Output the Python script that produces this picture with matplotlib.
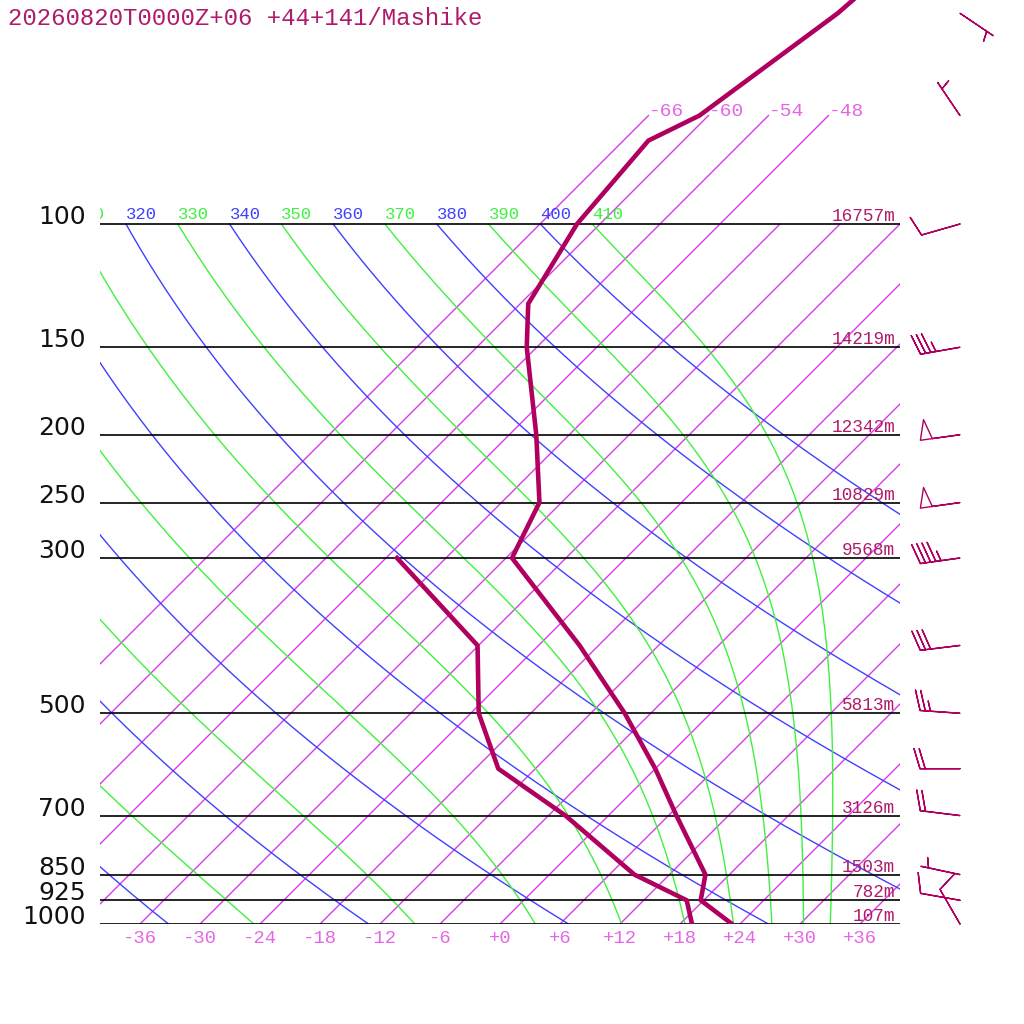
import numpy as np
import matplotlib
matplotlib.use('Agg')
import matplotlib.pyplot as plt
from matplotlib import transforms

# Sounding: Mashike, 2026-08-20 00Z +06h
title = '20260820T0000Z+06 +44+141/Mashike'

# temperature profile (hPa, degC)
t_pres = [1000, 925, 850, 700, 600, 500, 400, 300, 250, 200, 150, 130, 100, 76, 70, 50, 30]
t_temp = [23.2, 17.7, 15.6, 6.8, 0.0, -8.6, -19.9, -35.4, -38.2, -45.3, -55.0, -59.2, -62.3, -63.5, -60.9, -57.3, -55.0]

# dewpoint profile
td_pres = [1000, 925, 850, 700, 600, 500, 400, 300]
td_temp = [19.2, 16.3, 8.5, -4.3, -15.7, -23.2, -30.1, -46.9]

# standard levels and geopotential heights
lev_pres = [100, 150, 200, 250, 300, 500, 700, 850, 925, 1000]
lev_hgt = [16757, 14219, 12342, 10829, 9568, 5813, 3126, 1503, 782, 107]

# winds (direction deg, speed kt)
wind_pres = [50, 70, 100, 150, 200, 250, 300, 400, 500, 600, 700, 850, 925, 1000]
wind_dir = [124, 326, 254, 260, 262, 262, 262, 263, 274, 270, 277, 282, 280, 330]
wind_kt = [5, 5, 10, 35, 50, 50, 45, 30, 25, 20, 20, 5, 10, 10]

# background lines
isotherms = list(range(-66, 37, 6))
iso_high = [-66, -60, -54, -48]      # these go up to 70 hPa
theta_dry = list(range(240, 401, 20))
theta_moist = list(range(250, 411, 20))

SKEW = 70.0   # degC of shift per decade of pressure

PROF = '#b0005f'
TXT = '#b01a6a'
ISO = '#d83ce8'
ISO_LBL = '#e466e6'
BLUE = '#4040ff'
GREEN = '#40f040'


def skx(t, p):
    return np.asarray(t, dtype=float) + SKEW * np.log10(1000.0 / np.asarray(p, dtype=float))


def moist_rate(T, p):
    # dT/dlnp along a pseudo-adiabat (T in K, p in hPa)
    tc = T - 273.15
    es = 6.112 * np.exp(17.67 * tc / (tc + 243.5))
    rs = 0.622 * es / (p - es)
    return (287.04 * T + 2.501e6 * rs) / (1005.7 + 2.501e6 ** 2 * rs * 0.622 / (287.04 * T ** 2))


def moist_adiabat(theta, n=300):
    lnp = np.linspace(np.log(100.0), np.log(1000.0), n)
    h = lnp[1] - lnp[0]
    T = np.empty(n)
    T[0] = theta * (0.1) ** 0.2857
    for i in range(n - 1):
        p0 = np.exp(lnp[i])
        k1 = moist_rate(T[i], p0)
        k2 = moist_rate(T[i] + h * k1 / 2, np.exp(lnp[i] + h / 2))
        k3 = moist_rate(T[i] + h * k2 / 2, np.exp(lnp[i] + h / 2))
        k4 = moist_rate(T[i] + h * k3, np.exp(lnp[i] + h))
        T[i + 1] = T[i] + h * (k1 + 2 * k2 + 2 * k3 + k4) / 6
    return np.exp(lnp), T - 273.15


fig = plt.figure(figsize=(10.24, 10.24), dpi=100)
ax = fig.add_axes([100 / 1024, 100 / 1024, 800 / 1024, 924 / 1024])
ax.set_yscale('log')
ax.set_ylim(1000, 1000 / 10 ** (924 / 700))
ax.set_xlim(-40, 40)
ax.axis('off')

up5 = transforms.ScaledTranslation(0, 5 / 100, fig.dpi_scale_trans)
up3 = transforms.ScaledTranslation(0, 3 / 100, fig.dpi_scale_trans)
down6 = transforms.ScaledTranslation(0, -6 / 100, fig.dpi_scale_trans)

# isotherms
for t in isotherms:
    ptop = 70 if t in iso_high else 100
    p = np.array([1000.0, ptop])
    ax.plot(skx(t, p), p, color=ISO, lw=1.0, zorder=1)
    if t in iso_high:
        ax.text(skx(t, ptop), ptop, f'{t:+d}', ha='left', va='baseline',
                fontsize=14, family='Liberation Mono', color=ISO_LBL)

# dry adiabats
pp = np.geomspace(1000, 100, 200)
for th in theta_dry:
    tt = th * (pp / 1000.0) ** 0.2857 - 273.15
    ax.plot(skx(tt, pp), pp, color=BLUE, lw=1.0, zorder=1)
    if th >= 310:
        ax.text(skx(tt[-1], 100), 100, str(th), transform=ax.transData + up5,
                ha='left', va='baseline', fontsize=12.4, family='Liberation Mono',
                color=BLUE, clip_on=True)

# moist adiabats
for th in theta_moist:
    pm, tm = moist_adiabat(th)
    ax.plot(skx(tm, pm), pm, color=GREEN, lw=1.0, zorder=1)
    if th >= 310:
        ax.text(skx(tm[0], 100), 100, str(th), transform=ax.transData + up5,
                ha='left', va='baseline', fontsize=12.4, family='Liberation Mono',
                color=GREEN, clip_on=True)

# standard levels
ytr = ax.get_yaxis_transform()
for p, h in zip(lev_pres, lev_hgt):
    ax.axhline(p, color='black', lw=1.2, zorder=2)
    ax.text(-14 / 800, p, str(p), transform=ytr, ha='right', va='baseline',
            fontsize=18, family='DejaVu Sans', color='#111111')
    ax.text(0.994, p, f'{h}m', transform=ytr + up3, ha='right', va='baseline',
            fontsize=12.8, family='Liberation Mono', color=TXT, zorder=4)

# temperature labels at the bottom
for t in range(-36, 37, 6):
    ax.text(t, 1000, f'{t:+d}', transform=ax.transData + down6, ha='center',
            va='top', fontsize=13.6, family='Liberation Mono', color=ISO_LBL)

# profiles
ax.plot(skx(t_temp, t_pres), t_pres, color=PROF, lw=3.3, zorder=5)
ax.plot(skx(td_temp, td_pres), td_pres, color=PROF, lw=3.3, zorder=5)

# wind barbs (staff about 40 px)
wd = np.radians(wind_dir)
spd = np.array(wind_kt, dtype=float)
u = -spd * np.sin(wd)
v = -spd * np.cos(wd)
blen = np.sqrt(2 * 40 * 72 / fig.dpi)
ax.barbs(np.full(len(wind_pres), 860 / 800), wind_pres, u, v, transform=ytr,
         length=blen, linewidth=1.0, barbcolor=PROF, flagcolor='none',
         sizes=dict(height=0.5, spacing=0.13, width=0.3), clip_on=False, zorder=6)

fig.text(8 / 1024, 1 - 25 / 1024, title, ha='left', va='baseline',
         fontsize=17.3, family='Liberation Mono', color=TXT)

fig.savefig('out.png', dpi=100)
